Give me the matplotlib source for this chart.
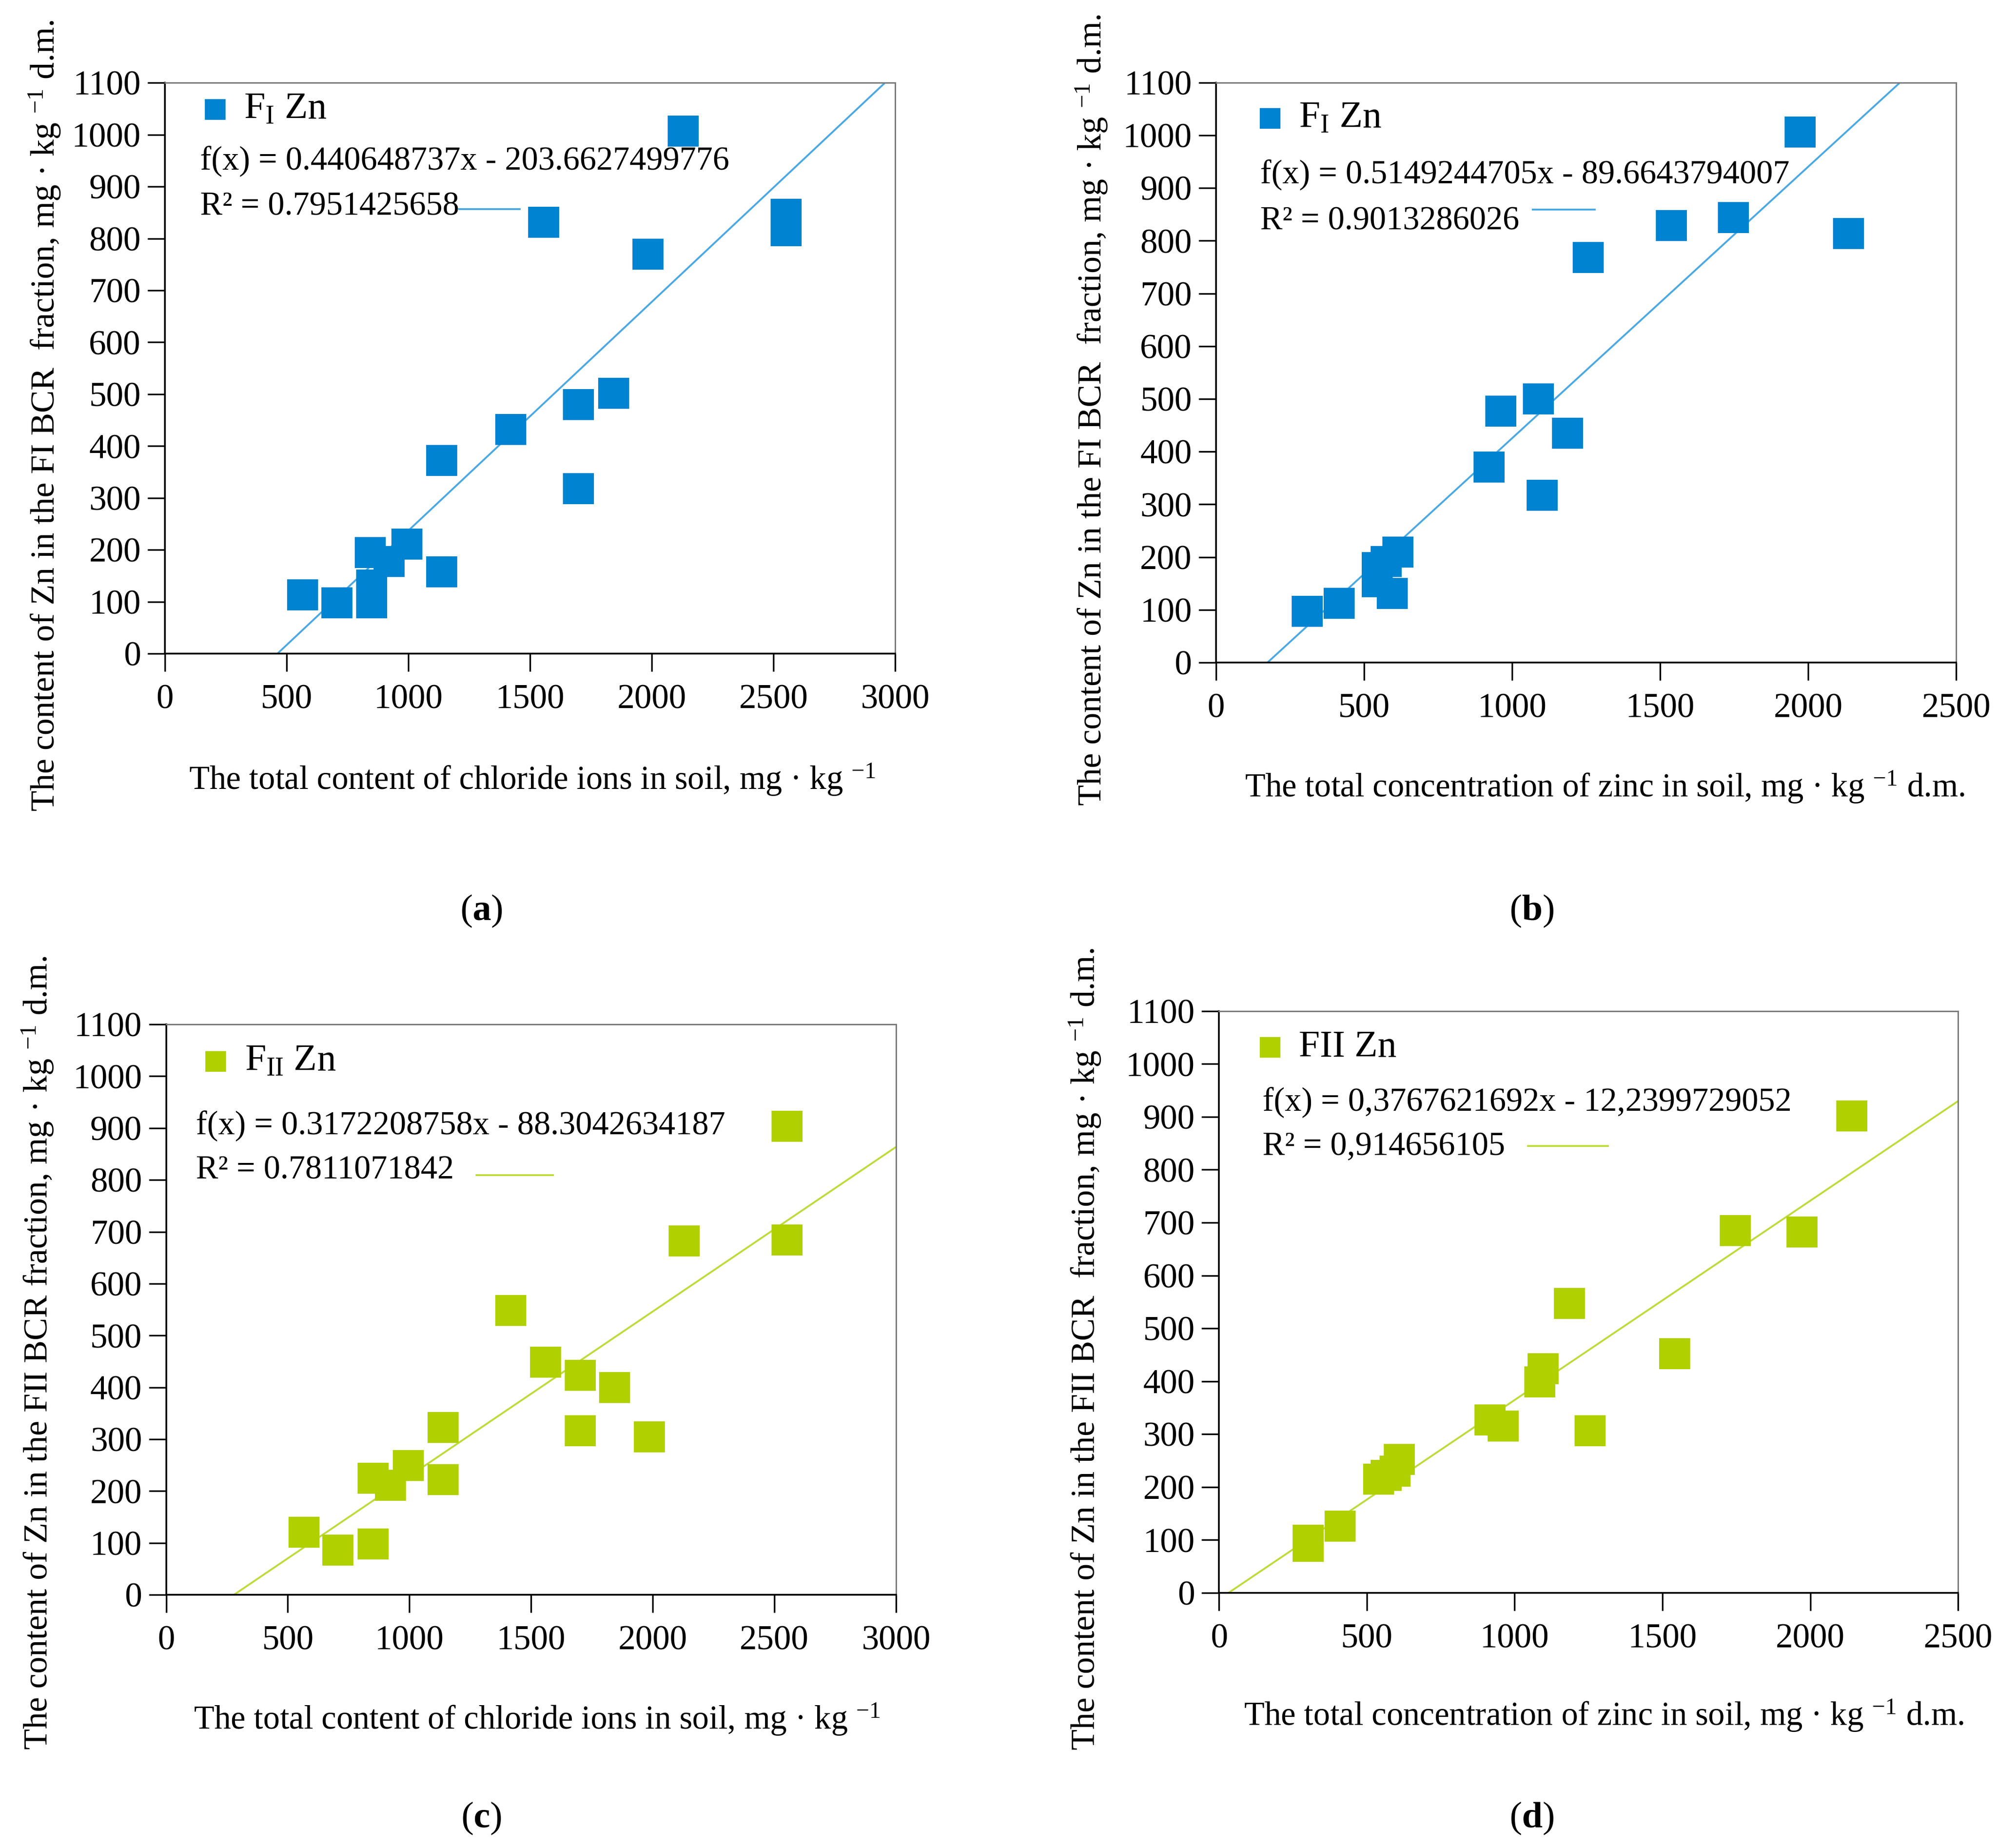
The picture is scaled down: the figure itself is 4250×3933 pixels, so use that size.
import numpy as np
import matplotlib
matplotlib.use("Agg")
import matplotlib.pyplot as plt

plt.rcParams['font.family'] = ['Liberation Serif', 'DejaVu Serif']
plt.rcParams['mathtext.fontset'] = 'custom'
plt.rcParams['mathtext.rm'] = 'Liberation Serif'
plt.rcParams['mathtext.it'] = 'Liberation Serif:italic'
plt.rcParams['mathtext.bf'] = 'Liberation Serif:bold'

# (a) FI Zn vs chloride
cl_a = [565, 706, 850, 850, 843, 921, 994, 1138, 1138, 1421, 1698, 1698, 1844, 1557, 1984, 2130, 2552, 2552]
fi_a = [113, 98, 98, 132, 195, 178, 211, 158, 372, 432, 480, 318, 502, 831, 770, 1007, 847, 815]
# (b) FI Zn vs total Zn
zn_b = [308, 416, 545, 545, 575, 614, 595, 922, 962, 1089, 1102, 1188, 1258, 1538, 1748, 1973, 2137]
fi_b = [97, 112, 180, 153, 192, 209, 131, 371, 477, 500, 317, 435, 768, 829, 844, 1006, 814]
# (c) FII Zn vs chloride
cl_c = [566, 706, 850, 850, 922, 995, 1139, 1139, 1417, 1560, 1703, 1703, 1843, 1986, 2129, 2553, 2553]
fii_c = [121, 86, 98, 225, 211, 249, 222, 323, 548, 449, 423, 316, 400, 305, 682, 903, 684]
# (d) FII Zn vs total Zn
zn_d = [301, 301, 409, 540, 565, 595, 610, 917, 962, 1086, 1097, 1185, 1256, 1541, 1746, 1972, 2140]
fii_d = [99, 88, 126, 215, 222, 230, 252, 327, 315, 399, 424, 547, 306, 452, 685, 682, 902]

slopes = [0.440648737, 0.5149244705, 0.3172208758, 0.3767621692]
intercepts = [-203.6627499776, -89.6643794007, -88.3042634187, -12.2399729052]
eq_texts = ["f(x) = 0.440648737x - 203.6627499776",
            "f(x) = 0.5149244705x - 89.6643794007",
            "f(x) = 0.3172208758x - 88.3042634187",
            "f(x) = 0,3767621692x - 12,2399729052"]
r2_texts = ["R² = 0.7951425658", "R² = 0.9013286026",
            "R² = 0.7811071842", "R² = 0,914656105"]
legend_names = [r"F$_{\mathrm{I}}$ Zn", r"F$_{\mathrm{I}}$ Zn",
                r"F$_{\mathrm{II}}$ Zn", "FII Zn"]
xlabels = ["The total content of chloride ions in soil, mg · kg $^{-1}$",
           "The total concentration of zinc in soil, mg · kg $^{-1}$ d.m.",
           "The total content of chloride ions in soil, mg · kg $^{-1}$",
           "The total concentration of zinc in soil, mg · kg $^{-1}$ d.m."]
ylabels = ["The content of Zn in the FI BCR  fraction, mg · kg $^{-1}$ d.m.",
           "The content of Zn in the FI BCR  fraction, mg · kg $^{-1}$ d.m.",
           "The content of Zn in the FII BCR fraction, mg · kg $^{-1}$ d.m.",
           "The content of Zn in the FII BCR  fraction, mg · kg $^{-1}$ d.m."]
captions = [r"($\mathbf{a}$)", r"($\mathbf{b}$)", r"($\mathbf{c}$)", r"($\mathbf{d}$)"]
xmaxes = [3000, 2500, 3000, 2500]

blue = "#0083d0"
blue_line = "#4aa8e3"
green = "#b1d000"
green_line = "#bddb3a"

fig = plt.figure(figsize=(42.5, 39.33), dpi=100)

rects = [[0.0826, 0.6463, 0.3656, 0.3089],
         [0.6089, 0.6415, 0.3706, 0.3138],
         [0.0832, 0.1370, 0.3654, 0.3087],
         [0.6104, 0.1381, 0.3701, 0.3148]]
xs = [cl_a, zn_b, cl_c, zn_d]
ys = [fi_a, fi_b, fii_c, fii_d]
mcol = [blue, blue, green, green]
lcol = [blue_line, blue_line, green_line, green_line]

# text placement in axes fraction: marker, name, f(x), R2, line sample
leg_pos = [
    dict(m=(0.069, 0.953), n=(0.108, 0.953), f=(0.048, 0.862), r=(0.048, 0.783), l=(0.403, 0.486, 0.779)),
    dict(m=(0.073, 0.938), n=(0.112, 0.938), f=(0.060, 0.840), r=(0.060, 0.761), l=(0.428, 0.512, 0.781)),
    dict(m=(0.068, 0.935), n=(0.108, 0.935), f=(0.041, 0.821), r=(0.041, 0.744), l=(0.425, 0.530, 0.736)),
    dict(m=(0.069, 0.938), n=(0.108, 0.938), f=(0.059, 0.842), r=(0.059, 0.766), l=(0.418, 0.526, 0.768)),
]
ylab_pos = [(0.0224, 0.775), (0.5466, 0.778), (0.019, 0.268), (0.5434, 0.270)]
xlab_pos = [(0.2666, 0.578), (0.8036, 0.574), (0.269, 0.0696), (0.803, 0.0717)]
cap_pos = [(0.241, 0.507), (0.767, 0.507), (0.241, 0.016), (0.767, 0.016)]

fs = 53
for i in range(4):
    ax = fig.add_axes(rects[i])
    xmax = xmaxes[i]
    xl = np.array([0, xmax])
    ax.plot(xl, slopes[i] * xl + intercepts[i], color=lcol[i], lw=2.8, zorder=2)
    ax.plot(xs[i], ys[i], linestyle="none", marker="s", markersize=47,
            color=mcol[i], markeredgewidth=0, zorder=3)
    ax.set_xlim(0, xmax)
    ax.set_ylim(0, 1100)
    ax.set_xticks(np.arange(0, xmax + 1, 500))
    ax.set_yticks(np.arange(0, 1101, 100))
    ax.tick_params(direction="out", length=27, width=2.5, labelsize=fs, pad=10)
    ax.tick_params(axis="x", pad=20)
    for s in ["left", "bottom"]:
        ax.spines[s].set_linewidth(2.6)
        ax.spines[s].set_color("black")
    for s in ["top", "right"]:
        ax.spines[s].set_linewidth(2.2)
        ax.spines[s].set_color("#7a7a7a")

    p = leg_pos[i]
    ax.plot([p["m"][0]], [p["m"][1]], marker="s", markersize=31, color=mcol[i],
            markeredgewidth=0, transform=ax.transAxes, clip_on=False)
    ax.text(p["n"][0], p["n"][1], legend_names[i], transform=ax.transAxes,
            fontsize=fs + 5, va="center", ha="left")
    ax.text(p["f"][0], p["f"][1], eq_texts[i], transform=ax.transAxes,
            fontsize=51, va="center", ha="left")
    ax.text(p["r"][0], p["r"][1], r2_texts[i], transform=ax.transAxes,
            fontsize=51, va="center", ha="left")
    ax.plot([p["l"][0], p["l"][1]], [p["l"][2], p["l"][2]], color=lcol[i], lw=2.8,
            transform=ax.transAxes)

    fig.text(ylab_pos[i][0], ylab_pos[i][1], ylabels[i], rotation=90,
             fontsize=52, ha="center", va="center")
    fig.text(xlab_pos[i][0], xlab_pos[i][1], xlabels[i],
             fontsize=51, ha="center", va="center")
    fig.text(cap_pos[i][0], cap_pos[i][1], captions[i],
             fontsize=fs + 4, ha="center", va="center")

fig.savefig("out.png", dpi=100)
